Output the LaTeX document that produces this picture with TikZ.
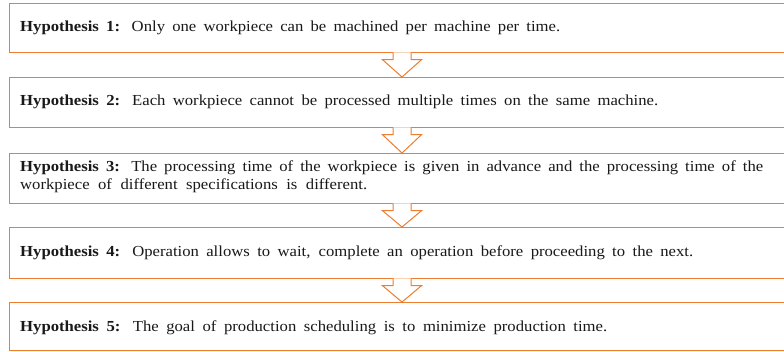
\documentclass[tikz,border=0pt]{standalone}
\usepackage{fontspec}
\setmainfont{Liberation Serif}[FakeStretch=1.09]
\usetikzlibrary{calc}
\definecolor{orng}{RGB}{237,125,49}
\begin{document}
\begin{tikzpicture}[x=1pt,y=-1pt,
  hbox/.style={draw=orng, line width=1.2pt, fill=white, inner sep=0pt, minimum width=791pt, anchor=north west},
  txt/.style={anchor=base west, inner sep=0pt, font=\fontsize{15.3}{18}\selectfont, text=black!90},
  arr/.style={draw=orng, line width=1pt, fill=white, line join=miter}]
\useasboundingbox (0,0) rectangle (784,352);
\clip (0,0) rectangle (784,352);
\node[hbox, minimum height=49pt] (h1) at (9,3) {};
\node[hbox, minimum height=50pt] (h2) at (9,77) {};
\node[hbox, minimum height=50pt] (h3) at (9,153) {};
\node[hbox, minimum height=51pt] (h4) at (9,227) {};
\node[hbox, minimum height=48pt] (h5) at (9,302) {};
\coordinate (ax) at (402,0);
\foreach \a/\b in {h1/h2,h2/h3,h3/h4,h4/h5}{
  \draw[arr] ($(\a.south -| ax)+(-9,-0.8)$) -- ($(\a.south -| ax)+(-9,6.5)$) -- ($(\a.south -| ax)+(-19.5,6.5)$) -- (\b.north -| ax) -- ($(\a.south -| ax)+(19.5,6.5)$) -- ($(\a.south -| ax)+(9,6.5)$) -- ($(\a.south -| ax)+(9,-0.8)$);
}
\node[txt] (t1) at (20,32) {\makebox[540pt][s]{\textbf{Hypothesis 1:} Only one workpiece can be machined per machine per time.}};
\node[txt] (t2) at (20,106) {\makebox[638pt][s]{\textbf{Hypothesis 2:} Each workpiece cannot be processed multiple times on the same machine.}};
\node[txt] (t3) at (20,172) {\makebox[743pt][s]{\textbf{Hypothesis 3:} The processing time of the workpiece is given in advance and the processing time of the}};
\node[txt] (t3b) at (20,190) {\makebox[347pt][s]{workpiece of different specifications is different.}};
\node[txt] (t4) at (20,257) {\makebox[673pt][s]{\textbf{Hypothesis 4:} Operation allows to wait, complete an operation before proceeding to the next.}};
\node[txt] (t5) at (20,332) {\makebox[587pt][s]{\textbf{Hypothesis 5:} The goal of production scheduling is to minimize production time.}};
\end{tikzpicture}
\end{document}
